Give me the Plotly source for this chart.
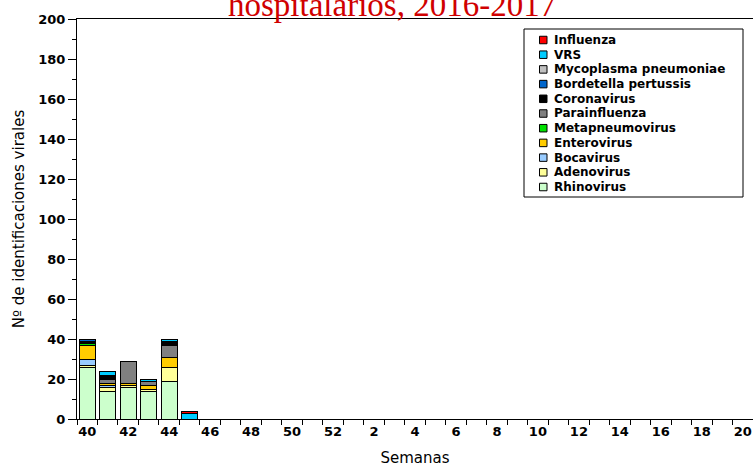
import plotly.graph_objects as go

weeks = list(range(40, 53)) + list(range(1, 21))

# counts per week (only first weeks have data)
rhinovirus = [26, 14, 16, 14, 19, 0]
adenovirus = [1, 2, 1, 1, 7, 0]
bocavirus = [3, 1, 0, 0, 0, 0]
enterovirus = [7, 1, 1, 2, 5, 0]
metapneumovirus = [1, 0, 0, 0, 0, 0]
parainfluenza = [0, 2, 11, 2, 6, 0]
coronavirus = [1, 2, 0, 0, 2, 0]
bordetella = [1, 0, 0, 0, 0, 0]
mycoplasma = [0, 0, 0, 0, 0, 0]
vrs = [0, 2, 0, 1, 1, 3]
influenza = [0, 0, 0, 0, 0, 1]

series = [
    ("Rhinovirus", rhinovirus, "#CCFFCC"),
    ("Adenovirus", adenovirus, "#FFFF99"),
    ("Bocavirus", bocavirus, "#99CCFF"),
    ("Enterovirus", enterovirus, "#FFCC00"),
    ("Metapneumovirus", metapneumovirus, "#00E000"),
    ("Parainfluenza", parainfluenza, "#808080"),
    ("Coronavirus", coronavirus, "#000000"),
    ("Bordetella pertussis", bordetella, "#0066CC"),
    ("Mycoplasma pneumoniae", mycoplasma, "#C0C0C0"),
    ("VRS", vrs, "#00CCFF"),
    ("Influenza", influenza, "#FF0000"),
]

W, H = 753, 468
L, R, T, B = 77, 0, 19, 49
pw, ph = W - L - R, H - T - B


def px_x(x):
    return (x - L) / pw


def px_y(y):
    return (H - B - y) / ph


xs = list(range(len(weeks)))
fig = go.Figure()
for name, vals, col in series:
    full = vals + [0] * (len(weeks) - len(vals))
    fig.add_trace(go.Bar(x=xs, y=full, name=name, width=0.78,
                         marker=dict(color=col, line=dict(color="black", width=1)),
                         showlegend=False))

# legend drawn by hand (tighter than plotly's own)
shapes = [dict(type="rect", xref="paper", yref="paper",
               x0=px_x(524), x1=px_x(743), y0=px_y(197), y1=px_y(29),
               line=dict(color="black", width=1), fillcolor="white", layer="above")]
annotations = []
for i, (name, vals, col) in enumerate(reversed(series)):
    yc = 40 + i * 14.7
    shapes.append(dict(type="rect", xref="paper", yref="paper",
                       x0=px_x(539.5), x1=px_x(547), y0=px_y(yc + 3.75), y1=px_y(yc - 3.75),
                       line=dict(color="black", width=1), fillcolor=col, layer="above"))
    annotations.append(dict(text=name, xref="paper", yref="paper", x=px_x(552), y=px_y(yc),
                            xanchor="left", yanchor="middle", showarrow=False,
                            font=dict(family="DejaVu Sans", size=12, color="black", weight="bold")))

annotations.append(dict(text="hospitalarios, 2016-2017", xref="paper", yref="paper",
                        x=px_x(392), y=px_y(5), xanchor="center", yanchor="middle",
                        showarrow=False,
                        font=dict(family="Liberation Serif", size=33, color="#D00000")))

fig.update_layout(
    barmode="stack",
    width=W, height=H,
    margin=dict(l=L, r=R, t=T, b=B, autoexpand=False),
    plot_bgcolor="white", paper_bgcolor="white",
    shapes=shapes, annotations=annotations,
    font=dict(family="DejaVu Sans", color="black"),
)
fig.update_xaxes(
    automargin=False,
    range=[-0.5, len(weeks) - 0.5],
    tickvals=xs[::2], ticktext=[str(w) for w in weeks[::2]],
    ticks="", showgrid=False, zeroline=False,
    showline=True, linecolor="black", linewidth=1, mirror=True,
    tickfont=dict(size=13, weight="bold"),
    minor=dict(ticks="outside", tick0=-0.5, dtick=1, ticklen=5, tickcolor="black", showgrid=False),
    title=dict(text="Semanas", font=dict(size=15), standoff=14),
)
fig.update_yaxes(
    automargin=False,
    range=[0, 200], dtick=20, ticks="outside", ticklen=8, tickcolor="black",
    showgrid=False, zeroline=False,
    showline=True, linecolor="black", linewidth=1,
    tickfont=dict(size=13, weight="bold"),
    minor=dict(ticks="outside", dtick=10, ticklen=4, tickcolor="black", showgrid=False),
    title=dict(text="Nº de identificaciones virales", font=dict(size=15), standoff=10),
)

fig.write_html("out.html", config={"displayModeBar": False},
               post_script="document.body.style.margin='0';")
